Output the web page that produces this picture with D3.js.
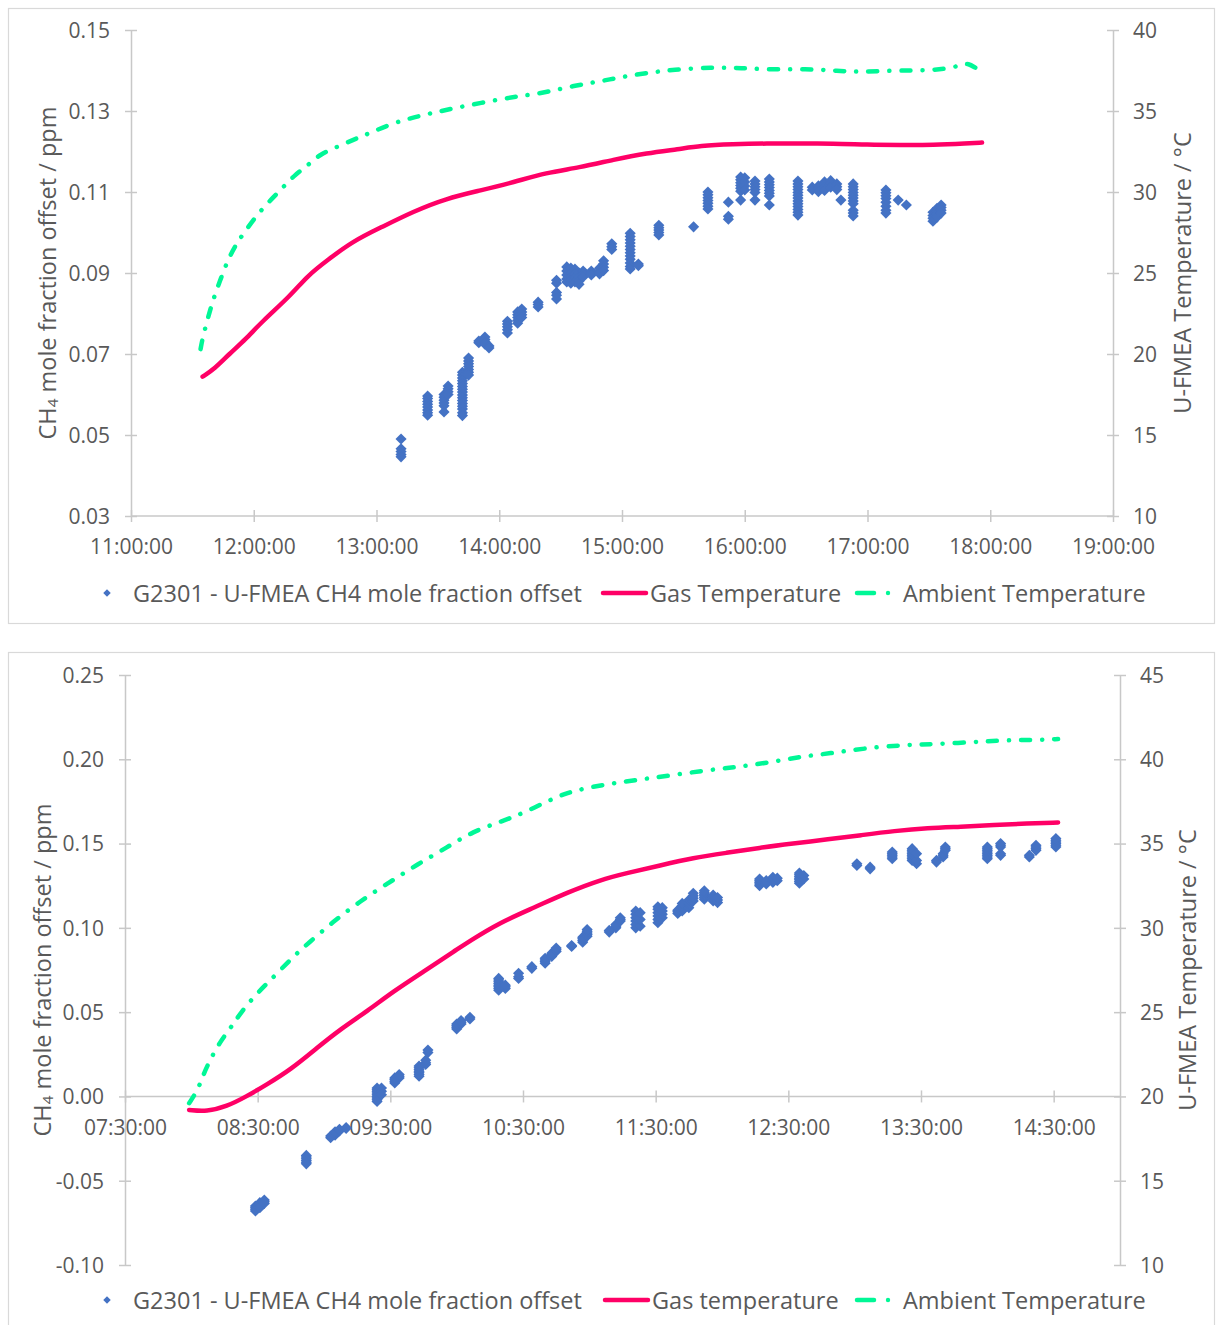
<!DOCTYPE html>
<html>
<head>
<meta charset="utf-8">
<script src="https://cdn.jsdelivr.net/npm/d3@7"></script>
<style>
  body { margin: 0; background: #fff; }
  svg text { font-family: "Open Sans", sans-serif; fill: #595959; }
</style>
</head>
<body>
<svg id="chart" width="1216" height="1325"></svg>
<script>
// ---------- Run 1 (11:00 - 19:00) ----------
const run1TimeTicks = ["11:00:00","12:00:00","13:00:00","14:00:00","15:00:00","16:00:00","17:00:00","18:00:00","19:00:00"];
const run1LeftTicks = ["0.03","0.05","0.07","0.09","0.11","0.13","0.15"];
const run1RightTicks = ["10","15","20","25","30","35","40"];

// CH4 offset readings, grouped by reading time
const run1Ch4 = [
  ["13:12",[0.0490,0.0466,0.0459,0.0452,0.0446]],
  ["13:25",[0.0596,0.0590,0.0583,0.0576,0.0569,0.0562,0.0555,0.0549]],
  ["13:33",[0.0600,0.0593,0.0586,0.0579,0.0572,0.0557]],
  ["13:35",[0.0621,0.0614,0.0607,0.0600]],
  ["13:42",[0.0655,0.0648,0.0641,0.0634,0.0627,0.0620,0.0613,0.0606,0.0599,0.0592,0.0585,0.0578,0.0571,0.0564,0.0555,0.0548]],
  ["13:45",[0.0690,0.0683,0.0676,0.0669,0.0662,0.0655,0.0648]],
  ["13:50",[0.0728,0.0732]],
  ["13:53",[0.0742,0.0736,0.0730,0.0724]],
  ["13:55",[0.0720,0.0715]],
  ["14:04",[0.0781,0.0774,0.0767,0.0760,0.0752]],
  ["14:09",[0.0804,0.0797,0.0790,0.0783,0.0776]],
  ["14:11",[0.0811,0.0804,0.0797,0.0790]],
  ["14:19",[0.0828,0.0822,0.0816]],
  ["14:28",[0.0882,0.0875,0.0852,0.0845,0.0836]],
  ["14:33",[0.0915,0.0905,0.0895,0.0885,0.0878]],
  ["14:35",[0.0912,0.0900,0.0890,0.0882,0.0875]],
  ["14:37",[0.0910,0.0898,0.0887,0.0878]],
  ["14:39",[0.0900,0.0890,0.0880,0.0872]],
  ["14:41",[0.0905,0.0898,0.0890]],
  ["14:45",[0.0905,0.0900,0.0895]],
  ["14:49",[0.0912,0.0905,0.0898]],
  ["14:51",[0.0930,0.0922,0.0914,0.0906]],
  ["14:55",[0.0972,0.0965,0.0958]],
  ["15:04",[0.0998,0.0990,0.0982,0.0974,0.0966,0.0958,0.0950,0.0942,0.0934,0.0925,0.0916,0.0910]],
  ["15:08",[0.0922,0.0918]],
  ["15:18",[0.1018,0.1012,0.1006,0.1000,0.0994]],
  ["15:35",[0.1014]],
  ["15:42",[0.1100,0.1093,0.1086,0.1079,0.1072,0.1065,0.1058]],
  ["15:52",[0.1075,0.1040,0.1033]],
  ["15:58",[0.1137,0.1130,0.1123,0.1116,0.1109,0.1102,0.1080]],
  ["16:00",[0.1135,0.1125,0.1115,0.1105]],
  ["16:05",[0.1127,0.1120,0.1113,0.1106,0.1099,0.1080]],
  ["16:12",[0.1132,0.1125,0.1118,0.1111,0.1104,0.1097,0.1090,0.1068]],
  ["16:26",[0.1127,0.1120,0.1113,0.1106,0.1099,0.1092,0.1085,0.1078,0.1071,0.1064,0.1057,0.1050,0.1043]],
  ["16:33",[0.1112,0.1105]],
  ["16:36",[0.1115,0.1108,0.1101]],
  ["16:39",[0.1125,0.1118,0.1111,0.1104]],
  ["16:42",[0.1128,0.1120,0.1112]],
  ["16:45",[0.1120,0.1113,0.1106]],
  ["16:47",[0.1080]],
  ["16:53",[0.1120,0.1113,0.1106,0.1099,0.1092,0.1085,0.1078,0.1071,0.1055,0.1048,0.1041]],
  ["17:09",[0.1105,0.1098,0.1091,0.1084,0.1075,0.1065,0.1055,0.1048]],
  ["17:15",[0.1080]],
  ["17:19",[0.1068]],
  ["17:32",[0.1050,0.1042,0.1035,0.1028]],
  ["17:34",[0.1060,0.1052,0.1045,0.1038]],
  ["17:36",[0.1068,0.1062,0.1055,0.1048]]
];

const run1GasTemp = [
  ["11:35",18.6],["11:41",19.1],["11:48",20.0],["11:56",20.9],["12:04",22.0],["12:18",23.6],
  ["12:26",24.8],["12:36",25.8],["12:49",27.0],["13:02",27.8],["13:18",28.8],["13:34",29.6],
  ["13:51",30.1],["14:07",30.6],["14:23",31.2],["14:39",31.5],["14:56",32.0],["15:12",32.4],
  ["15:28",32.65],["15:38",32.85],["15:54",32.95],["16:11",33.0],["16:27",32.98],["16:43",33.0],
  ["17:00",32.92],["17:16",32.9],["17:32",32.9],["17:49",33.0],["17:56",33.05]
];

const run1AmbientTemp = [
  ["11:34",20.3],["11:35",21.0],["11:38",22.4],["11:40",23.3],["11:44",24.7],["11:48",26.0],
  ["11:52",26.9],["11:57",27.8],["12:03",28.8],["12:09",29.6],["12:14",30.25],["12:20",31.05],
  ["12:27",31.7],["12:32",32.3],["12:41",32.8],["12:50",33.3],["12:58",33.7],["13:08",34.25],
  ["13:18",34.6],["13:28",34.9],["13:39",35.2],["13:51",35.5],["14:04",35.8],["14:12",35.95],
  ["14:23",36.15],["14:36",36.55],["14:48",36.8],["15:00",37.1],["15:12",37.35],["15:25",37.55],
  ["15:44",37.7],["15:58",37.65],["16:14",37.55],["16:30",37.6],["16:43",37.5],["16:55",37.4],
  ["17:12",37.5],["17:29",37.5],["17:38",37.6],["17:47",37.85],["17:49",37.95],["17:53",37.65]
];

// ---------- Run 2 (07:30 - 15:00) ----------
const run2TimeTicks = ["07:30:00","08:30:00","09:30:00","10:30:00","11:30:00","12:30:00","13:30:00","14:30:00"];
const run2LeftTicks = ["-0.10","-0.05","0.00","0.05","0.10","0.15","0.20","0.25"];
const run2RightTicks = ["10","15","20","25","30","35","40","45"];

const run2Ch4 = [
  ["08:29",[-0.0650,-0.0660,-0.0670,-0.0680]],
  ["08:31",[-0.0630,-0.0640,-0.0650,-0.0660]],
  ["08:33",[-0.0615,-0.0625,-0.0635]],
  ["08:52",[-0.0350,-0.0360,-0.0370,-0.0380,-0.0390,-0.0400]],
  ["09:03",[-0.0245,-0.0235]],
  ["09:05",[-0.0230,-0.0220,-0.0210]],
  ["09:07",[-0.0205,-0.0195]],
  ["09:10",[-0.0190,-0.0185]],
  ["09:24",[0.0050,0.0040,0.0030,0.0020,0.0010,0.0000,-0.0010,-0.0020,-0.0030]],
  ["09:26",[0.0050,0.0030,0.0010]],
  ["09:32",[0.0080,0.0090,0.0100,0.0110]],
  ["09:34",[0.0110,0.0120,0.0130]],
  ["09:43",[0.0120,0.0130,0.0140,0.0150,0.0160,0.0170,0.0180]],
  ["09:46",[0.0190,0.0200,0.0215]],
  ["09:47",[0.0260,0.0275]],
  ["10:00",[0.0400,0.0410,0.0420,0.0430]],
  ["10:02",[0.0430,0.0440,0.0450]],
  ["10:06",[0.0460,0.0470]],
  ["10:19",[0.0630,0.0640,0.0650,0.0660,0.0670,0.0680,0.0690,0.0700]],
  ["10:22",[0.0640,0.0650,0.0660]],
  ["10:28",[0.0700,0.0710,0.0730]],
  ["10:34",[0.0760,0.0770]],
  ["10:40",[0.0790,0.0800,0.0810,0.0820]],
  ["10:43",[0.0830,0.0840,0.0850]],
  ["10:45",[0.0860,0.0870,0.0880]],
  ["10:52",[0.0890,0.0895]],
  ["10:57",[0.0915,0.0925,0.0935,0.0945]],
  ["10:59",[0.0950,0.0960,0.0970,0.0980,0.0990]],
  ["11:09",[0.0975,0.0985]],
  ["11:12",[0.1000,0.1010,0.1020]],
  ["11:14",[0.1040,0.1050,0.1060]],
  ["11:21",[0.1000,0.1020,0.1040,0.1060,0.1080,0.1100]],
  ["11:23",[0.1010,0.1050,0.1090]],
  ["11:31",[0.1030,0.1050,0.1070,0.1090,0.1110,0.1125]],
  ["11:33",[0.1060,0.1080,0.1100,0.1120]],
  ["11:40",[0.1085,0.1095,0.1105]],
  ["11:42",[0.1100,0.1115,0.1130,0.1145]],
  ["11:45",[0.1120,0.1135,0.1150,0.1165]],
  ["11:47",[0.1160,0.1175,0.1190,0.1205]],
  ["11:52",[0.1170,0.1180,0.1190,0.1200,0.1210,0.1220]],
  ["11:56",[0.1160,0.1170,0.1180,0.1195]],
  ["11:58",[0.1150,0.1165,0.1180]],
  ["12:17",[0.1250,0.1260,0.1270,0.1280,0.1290]],
  ["12:20",[0.1260,0.1270,0.1280]],
  ["12:23",[0.1270,0.1280,0.1290,0.1300]],
  ["12:25",[0.1280,0.1295]],
  ["12:35",[0.1265,0.1275,0.1285,0.1295,0.1305,0.1315,0.1325]],
  ["12:37",[0.1290,0.1310]],
  ["13:01",[0.1370,0.1380]],
  ["13:07",[0.1350,0.1360]],
  ["13:17",[0.1410,0.1420,0.1430,0.1440,0.1450]],
  ["13:26",[0.1400,0.1410,0.1420,0.1430,0.1440,0.1450,0.1460,0.1470]],
  ["13:28",[0.1380,0.1400,0.1440]],
  ["13:37",[0.1390,0.1400]],
  ["13:40",[0.1420,0.1430,0.1440]],
  ["13:41",[0.1460,0.1470,0.1480]],
  ["14:00",[0.1410,0.1420,0.1430,0.1440,0.1450,0.1460,0.1470,0.1480]],
  ["14:06",[0.1430,0.1440,0.1480,0.1490,0.1500]],
  ["14:19",[0.1420,0.1430]],
  ["14:22",[0.1460,0.1470,0.1480,0.1490]],
  ["14:31",[0.1480,0.1490,0.1500,0.1510,0.1520,0.1530]]
];

const run2GasTemp = [
  ["07:59",19.2],["08:07",19.1],["08:16",19.4],["08:25",20.0],["08:34",20.7],["08:45",21.6],
  ["08:57",22.9],["09:07",23.95],["09:20",25.1],["09:31",26.2],["09:45",27.4],["10:00",28.7],
  ["10:05",29.15],["10:20",30.35],["10:35",31.2],["10:50",32.1],["11:05",32.85],["11:17",33.25],
  ["11:32",33.7],["11:47",34.15],["12:02",34.45],["12:17",34.75],["12:32",35.0],["12:48",35.25],
  ["13:03",35.5],["13:18",35.75],["13:33",35.93],["13:48",36.0],["14:03",36.1],["14:18",36.2],
  ["14:32",36.25]
];

const run2AmbientTemp = [
  ["07:59",19.6],["08:03",20.4],["08:05",21.15],["08:08",22.05],["08:13",23.25],["08:18",24.1],
  ["08:23",25.1],["08:30",26.15],["08:35",26.8],["08:41",27.6],["08:47",28.4],["08:53",29.1],
  ["09:04",30.35],["09:16",31.55],["09:29",32.65],["09:42",33.75],["09:56",34.8],["10:07",35.7],
  ["10:20",36.3],["10:30",36.8],["10:44",37.7],["10:50",38.0],["10:57",38.25],["11:09",38.55],
  ["11:23",38.8],["11:37",39.05],["11:53",39.35],["12:07",39.55],["12:21",39.8],["12:35",40.15],
  ["12:49",40.35],["13:04",40.65],["13:22",40.85],["13:37",40.9],["13:58",41.05],["14:12",41.15],
  ["14:24",41.15],["14:32",41.2]
];

// ---------- drawing ----------
const COLORS = { ch4: "#4472C4", gas: "#FF0066", ambient: "#00F796", axis: "#C8C8C8", frame: "#D9D9D9" };
const AMBIENT_DASH = "9,12,0.1,12";
const parseHM = d3.timeParse("%H:%M");
const parseHMS = d3.timeParse("%H:%M:%S");
const svg = d3.select("#chart");

function drawPanel(p) {
  const g = svg.append("g");

  g.append("rect")
    .attr("x", p.frame[0]).attr("y", p.frame[1])
    .attr("width", p.frame[2]).attr("height", p.frame[3])
    .attr("fill", "#fff").attr("stroke", COLORS.frame).attr("stroke-width", 1.2);

  const x = d3.scaleTime().domain(p.xDomain.map(parseHMS)).range([p.left, p.right]);
  const yL = d3.scaleLinear().domain(p.yLeftDomain).range([p.bottom, p.top]);
  const yR = d3.scaleLinear().domain(p.yRightDomain).range([p.bottom, p.top]);

  const styleAxis = sel => {
    sel.select(".domain").attr("stroke", COLORS.axis).attr("stroke-width", 1.5);
    sel.selectAll(".tick line").attr("stroke", COLORS.axis).attr("stroke-width", 1.5);
    sel.selectAll(".tick text").attr("fill", "#595959").style("font-size", p.tickFont + "px")
      .style("font-family", "'Open Sans', sans-serif");
  };

  // left axis
  const gl = g.append("g").attr("transform", `translate(${p.left},0)`)
    .call(d3.axisLeft(yL).tickValues(p.leftTicks.map(Number))
      .tickFormat((d, i) => p.leftTicks[i]).tickSizeInner(6).tickSizeOuter(0));
  styleAxis(gl);
  gl.selectAll(".tick line").attr("x1", -6).attr("x2", 6);
  gl.selectAll(".tick text").attr("x", -21).attr("dy", "0.35em");

  // right axis
  const gr = g.append("g").attr("transform", `translate(${p.right},0)`)
    .call(d3.axisRight(yR).tickValues(p.rightTicks.map(Number))
      .tickFormat((d, i) => p.rightTicks[i]).tickSizeInner(6).tickSizeOuter(0));
  styleAxis(gr);
  gr.selectAll(".tick line").attr("x1", -6).attr("x2", 6);
  gr.selectAll(".tick text").attr("x", 20).attr("dy", "0.35em");

  // time axis, crossing at zero of the left scale
  const x0 = yL.domain()[0] < 0 ? yL(0) : p.bottom;
  const gx = g.append("g").attr("transform", `translate(0,${x0})`)
    .call(d3.axisBottom(x).tickValues(p.timeTicks.map(parseHMS))
      .tickFormat((d, i) => p.timeTicks[i]).tickSizeInner(6).tickSizeOuter(0));
  styleAxis(gx);
  gx.select(".domain").attr("d", `M${p.left},0H${p.right}`);
  gx.selectAll(".tick line").attr("y1", -6).attr("y2", 6);
  gx.selectAll(".tick text").attr("y", 31).attr("dy", "0.35em");

  // axis titles
  const lt = g.append("text")
    .attr("transform", `translate(${p.leftTitleX},${(p.top + p.bottom) / 2}) rotate(-90)`)
    .attr("text-anchor", "middle").attr("dominant-baseline", "central")
    .style("font-size", p.titleFont + "px");
  lt.append("tspan").text("CH");
  lt.append("tspan").text("4").style("font-size", (p.titleFont * 0.65) + "px").attr("dy", 5);
  lt.append("tspan").text(" mole fraction offset / ppm").attr("dy", -5);

  g.append("text")
    .attr("transform", `translate(${p.rightTitleX},${(p.top + p.bottom) / 2}) rotate(-90)`)
    .attr("text-anchor", "middle").attr("dominant-baseline", "central")
    .style("font-size", p.titleFont + "px")
    .text("U-FMEA Temperature / °C");

  // temperature lines
  const line = d3.line().x(d => x(parseHM(d[0]))).y(d => yR(d[1])).curve(d3.curveBasis);
  g.append("path").datum(p.gas).attr("d", line)
    .attr("fill", "none").attr("stroke", COLORS.gas).attr("stroke-width", 4.5)
    .attr("stroke-linecap", "round").attr("stroke-linejoin", "round");
  g.append("path").datum(p.ambient).attr("d", line)
    .attr("fill", "none").attr("stroke", COLORS.ambient).attr("stroke-width", 4.5)
    .attr("stroke-linecap", "round").attr("stroke-dasharray", AMBIENT_DASH);

  // CH4 readings as diamonds
  const pts = p.ch4.flatMap(([t, vals]) => vals.map(v => [t, v]));
  const diamond = d3.symbol(d3.symbolSquare, 62);
  g.append("g").selectAll("path").data(pts).join("path")
    .attr("d", diamond)
    .attr("transform", d => `translate(${x(parseHM(d[0]))},${yL(d[1])}) rotate(45)`)
    .attr("fill", COLORS.ch4);

  // legend
  const ly = p.legendY;
  const lg = g.append("g").style("font-size", p.legendFont + "px");
  lg.append("path").attr("d", d3.symbol(d3.symbolSquare, 28))
    .attr("transform", `translate(107,${ly}) rotate(45)`).attr("fill", COLORS.ch4);
  lg.append("text").attr("x", 133).attr("y", ly).attr("dominant-baseline", "central")
    .text("G2301 - U-FMEA CH4 mole fraction offset");
  lg.append("line").attr("x1", p.legendGasX).attr("x2", p.legendGasX + 43)
    .attr("y1", ly).attr("y2", ly).attr("stroke", COLORS.gas).attr("stroke-width", 4.5)
    .attr("stroke-linecap", "round");
  lg.append("text").attr("x", p.legendGasX + 47).attr("y", ly).attr("dominant-baseline", "central")
    .text(p.gasLabel);
  lg.append("line").attr("x1", 857).attr("x2", 874)
    .attr("y1", ly).attr("y2", ly).attr("stroke", COLORS.ambient).attr("stroke-width", 4.5)
    .attr("stroke-linecap", "round");
  lg.append("circle").attr("cx", 888).attr("cy", ly).attr("r", 2.2).attr("fill", COLORS.ambient);
  lg.append("text").attr("x", 903).attr("y", ly).attr("dominant-baseline", "central")
    .text("Ambient Temperature");
}

drawPanel({
  frame: [8.5, 8.5, 1206, 615],
  left: 131, right: 1113, top: 30, bottom: 516,
  xDomain: ["11:00:00", "19:00:00"],
  yLeftDomain: [0.03, 0.15], yRightDomain: [10, 40],
  timeTicks: run1TimeTicks, leftTicks: run1LeftTicks, rightTicks: run1RightTicks,
  ch4: run1Ch4, gas: run1GasTemp, ambient: run1AmbientTemp,
  leftTitleX: 47, rightTitleX: 1182,
  tickFont: 21, titleFont: 23.5, legendFont: 23.5,
  legendY: 593, legendGasX: 603, gasLabel: "Gas Temperature"
});

drawPanel({
  frame: [8.5, 652.5, 1206, 690],
  left: 125, right: 1120, top: 675, bottom: 1265,
  xDomain: ["07:30:00", "15:00:00"],
  yLeftDomain: [-0.10, 0.25], yRightDomain: [10, 45],
  timeTicks: run2TimeTicks, leftTicks: run2LeftTicks, rightTicks: run2RightTicks,
  ch4: run2Ch4, gas: run2GasTemp, ambient: run2AmbientTemp,
  leftTitleX: 42, rightTitleX: 1187,
  tickFont: 21, titleFont: 23.5, legendFont: 23.5,
  legendY: 1300, legendGasX: 605, gasLabel: "Gas temperature"
});
</script>
</body>
</html>
